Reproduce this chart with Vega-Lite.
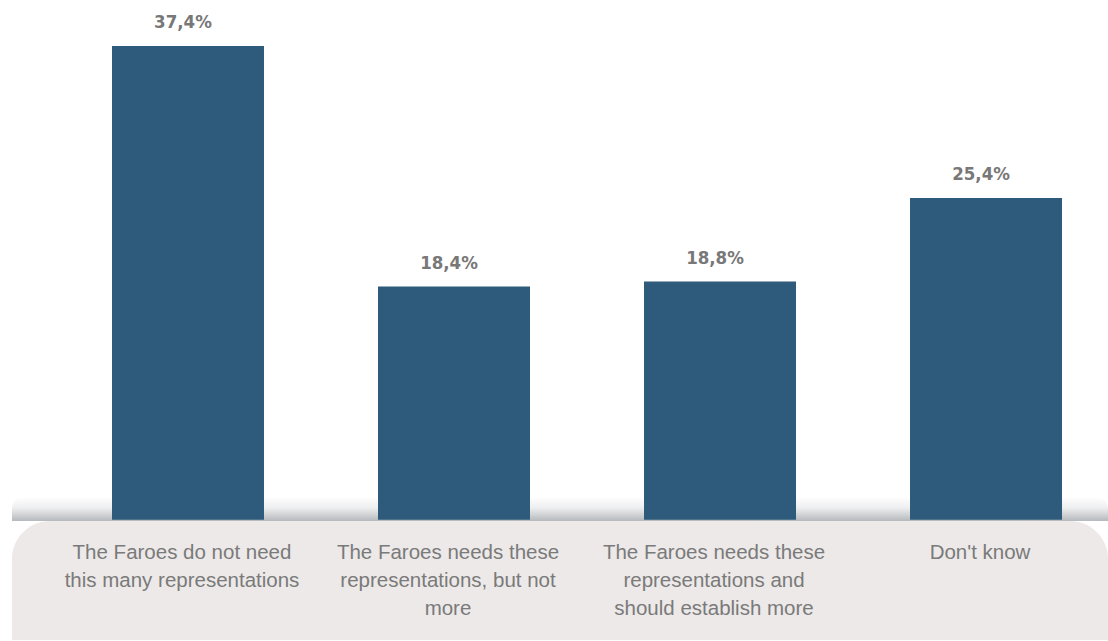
{
  "$schema": "https://vega.github.io/schema/vega-lite/v6.json",
  "width": 1096,
  "height": 627,
  "autosize": {"type": "none"},
  "padding": {"left": 12, "top": 13, "right": 0, "bottom": 0},
  "background": "white",
  "config": {
    "view": {"stroke": null},
    "locale": {"number": {"decimal": ",", "thousands": ".", "grouping": [3], "currency": ["", " €"]}}
  },
  "data": {
    "values": [
      {"category": "The Faroes do not need\nthis many representations", "share": 0.374},
      {"category": "The Faroes needs these\nrepresentations, but not\nmore", "share": 0.184},
      {"category": "The Faroes needs these\nrepresentations and\nshould establish more", "share": 0.188},
      {"category": "Don't know", "share": 0.254}
    ]
  },
  "layer": [
    {
      "data": {"values": [{}]},
      "mark": {
        "type": "rect",
        "cornerRadiusTopLeft": 45,
        "cornerRadiusTopRight": 45,
        "color": {
          "gradient": "linear",
          "x1": 0, "y1": 0, "x2": 0, "y2": 1,
          "stops": [
            {"offset": 0, "color": "#ffffff"},
            {"offset": 0.45, "color": "#eeeff0"},
            {"offset": 1, "color": "#b6b9bd"}
          ]
        }
      },
      "encoding": {
        "y": {"datum": -0.001, "type": "quantitative", "scale": {"domain": [-0.095, 0.40], "nice": false, "zero": false}, "axis": null},
        "y2": {"datum": 0.018}
      }
    },
    {
      "data": {"values": [{}]},
      "mark": {
        "type": "rect",
        "color": "#ece9e8",
        "cornerRadiusTopLeft": 38,
        "cornerRadiusTopRight": 38
      },
      "encoding": {
        "y": {"datum": -0.095, "type": "quantitative"},
        "y2": {"datum": -0.001}
      }
    },
    {
      "mark": {"type": "bar", "color": "#2e5b7b"},
      "encoding": {
        "x": {
          "field": "category", "type": "nominal", "sort": null, "axis": null,
          "scale": {"paddingInner": 0.4286, "paddingOuter": 0.2744, "align": 0.685}
        },
        "y": {"field": "share", "type": "quantitative"}
      }
    },
    {
      "mark": {
        "type": "text",
        "font": "DejaVu Sans Condensed, DejaVu Sans, sans-serif",
        "fontWeight": "bold",
        "fontSize": 18.5,
        "color": "#787878",
        "baseline": "alphabetic",
        "dy": -18,
        "dx": -5
      },
      "encoding": {
        "x": {"field": "category", "type": "nominal", "sort": null},
        "y": {"field": "share", "type": "quantitative"},
        "text": {"field": "share", "type": "quantitative", "format": ".1%"}
      }
    },
    {
      "mark": {
        "type": "text",
        "font": "Liberation Sans, Arial, sans-serif",
        "fontSize": 20.5,
        "color": "#7a7a7a",
        "baseline": "alphabetic",
        "align": "center",
        "lineBreak": "\n",
        "lineHeight": 28,
        "dy": 39,
        "dx": -6
      },
      "encoding": {
        "x": {"field": "category", "type": "nominal", "sort": null},
        "y": {"datum": 0, "type": "quantitative"},
        "text": {"field": "category", "type": "nominal"}
      }
    }
  ]
}
